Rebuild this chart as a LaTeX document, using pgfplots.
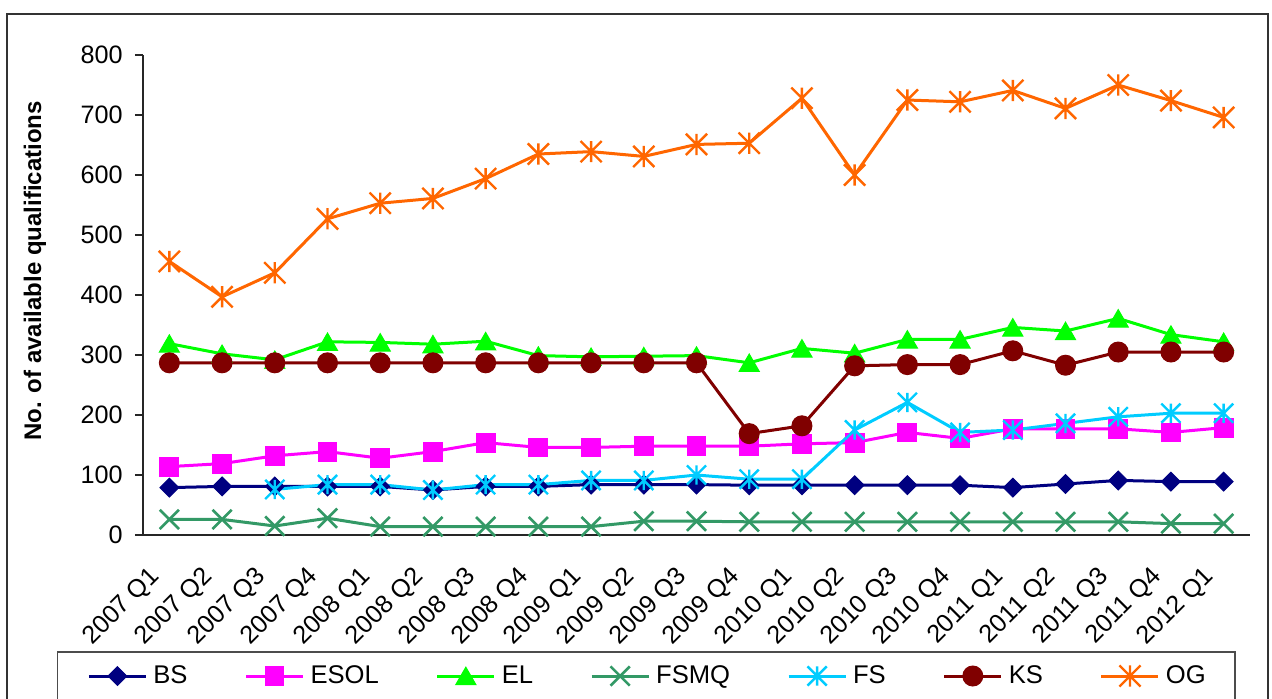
\documentclass[border=0pt]{standalone}
\usepackage{pgfplots}
\pgfplotsset{compat=1.18}
\usepackage{pgfplotstable}
\usepackage{fontspec}
\setmainfont{Liberation Sans}
\usetikzlibrary{plotmarks}

\definecolor{cBS}{RGB}{0,0,128}
\definecolor{cESOL}{RGB}{255,0,255}
\definecolor{cEL}{RGB}{0,255,0}
\definecolor{cFSMQ}{RGB}{51,153,102}
\definecolor{cFS}{RGB}{0,204,255}
\definecolor{cKS}{RGB}{128,0,0}
\definecolor{cOG}{RGB}{255,102,0}

\pgfdeclareplotmark{rdiamond*}{%
  \pgfpathmoveto{\pgfqpoint{0pt}{\pgfplotmarksize}}%
  \pgfpathlineto{\pgfqpoint{\pgfplotmarksize}{0pt}}%
  \pgfpathlineto{\pgfqpoint{0pt}{-\pgfplotmarksize}}%
  \pgfpathlineto{\pgfqpoint{-\pgfplotmarksize}{0pt}}%
  \pgfpathclose
  \pgfusepathqfillstroke}
\pgfdeclareplotmark{xstar}{%
  \pgfpathmoveto{\pgfqpoint{0pt}{\pgfplotmarksize}}%
  \pgfpathlineto{\pgfqpoint{0pt}{-\pgfplotmarksize}}%
  \pgfpathmoveto{\pgfqpoint{\pgfplotmarksize}{\pgfplotmarksize}}%
  \pgfpathlineto{\pgfqpoint{-\pgfplotmarksize}{-\pgfplotmarksize}}%
  \pgfpathmoveto{\pgfqpoint{-\pgfplotmarksize}{\pgfplotmarksize}}%
  \pgfpathlineto{\pgfqpoint{\pgfplotmarksize}{-\pgfplotmarksize}}%
  \pgfusepathqstroke}

\newcommand\qlab[1]{\ifcase#1 2007 Q1\or 2007 Q2\or 2007 Q3\or 2007 Q4\or 2008 Q1\or 2008 Q2\or 2008 Q3\or 2008 Q4\or 2009 Q1\or 2009 Q2\or 2009 Q3\or 2009 Q4\or 2010 Q1\or 2010 Q2\or 2010 Q3\or 2010 Q4\or 2011 Q1\or 2011 Q2\or 2011 Q3\or 2011 Q4\or 2012 Q1\fi}

\pgfplotstableread{
cat BS ESOL EL FSMQ FS KS OG
0 79 114 319 26 nan 287 456
1 81 119 302 26 nan 287 397
2 81 132 292 15 76 287 437
3 81 139 322 28 84 287 527
4 81 128 321 14 84 287 553
5 75 139 318 14 75 287 561
6 81 154 323 14 84 287 594
7 81 146 299 14 84 287 635
8 84 146 297 14 91 287 639
9 84 148 298 23 91 287 631
10 84 148 299 23 100 287 651
11 83 148 287 22 93 169 653
12 83 152 311 22 93 182 728
13 83 154 303 22 175 282 600
14 83 171 326 22 221 284 725
15 83 161 326 22 171 284 722
16 79 177 346 22 175 307 741
17 85 177 340 22 186 283 711
18 91 177 361 22 197 305 750
19 89 171 334 19 203 305 724
20 89 179 322 19 203 305 696
}\datatable

\begin{document}
\begin{tikzpicture}
\useasboundingbox (0,0) rectangle (636pt,349pt);
\begin{axis}[
  at={(71.5pt,81.5pt)}, anchor=south west,
  scale only axis, width=553.5pt, height=240pt,
  xmin=-0.5, xmax=20.5, ymin=0, ymax=800,
  axis lines*=left,
  axis line style={black!85, line width=0.6pt},
  xtick=\empty,
  minor xtick={-0.5,0.5,...,20.5},
  ytick={0,100,...,800},
  tick align=outside,
  major tick length=4pt, minor tick length=4pt,
  tick style={black!85, line width=0.6pt},
  tick label style={font=\fontsize{12.6}{15}\selectfont},
  /pgf/number format/assume math mode=true,
  yticklabel style={inner sep=0pt, xshift=-6pt},
  ylabel={No. of available qualifications},
  every axis y label/.style={at={(axis description cs:-0.0976,0.55)}, rotate=90, anchor=center, font=\bfseries\fontsize{12}{14}\selectfont},
  legend columns=7,
  legend style={at={(axis description cs:-0.0506,-0.29375)}, anchor=west,
    draw=none, fill=none, inner sep=0pt,
    font=\fontsize{12.8}{15}\selectfont,
    nodes={inner sep=0pt},
    /tikz/every odd column/.append style={column sep=3pt},
    /tikz/every even column/.append style={column sep=28.5pt}},
  legend image code/.code={\draw[mark repeat=2,mark phase=2,#1] plot coordinates {(0pt,0pt) (14.25pt,0pt) (28.5pt,0pt)};},
  every axis plot/.append style={line width=1.5pt},
  clip=false,
]
\addplot[color=cBS, mark=rdiamond*, mark size=4.7pt, mark options={solid, line width=0.5pt}] table[x=cat, y=BS] {\datatable};
\addlegendentry{BS}
\addplot[color=cESOL, mark=square*, mark size=4.7pt, mark options={solid, line width=0.5pt}] table[x=cat, y=ESOL] {\datatable};
\addlegendentry{ESOL}
\addplot[color=cEL, mark=triangle*, mark size=5.8pt, mark options={solid, line width=0.5pt, yshift=-1.4pt}] table[x=cat, y=EL] {\datatable};
\addlegendentry{EL}
\addplot[color=cFSMQ, mark=x, mark size=6.8pt, mark options={solid, line width=1.3pt}] table[x=cat, y=FSMQ] {\datatable};
\addlegendentry{FSMQ}
\addplot[color=cFS, mark=xstar, mark size=4.8pt, mark options={solid, line width=1.2pt}] table[x=cat, y=FS] {\datatable};
\addlegendentry{FS}
\addplot[color=cKS, mark=*, mark size=5pt, mark options={solid, line width=0.5pt}] table[x=cat, y=KS] {\datatable};
\addlegendentry{KS}
\addplot[color=cOG, mark=xstar, mark size=5.3pt, mark options={solid, line width=1.2pt}] table[x=cat, y=OG] {\datatable};
\addlegendentry{OG}
\pgfplotsinvokeforeach{0,...,20}{
  \node[rotate=45, anchor=east, inner sep=0pt, font=\fontsize{12.6}{15}\selectfont]
    at ([xshift=-6.5pt,yshift=-18.7pt]axis cs:#1,0) {\qlab{#1}};
}
\end{axis}
\draw[gray!40!black, line width=1pt] (3.5pt,-5pt) -- (3.5pt,342pt) -- (634pt,342pt) -- (634pt,-5pt);
\draw[gray!60!black, line width=0.7pt] (28.85pt,-5pt) -- (28.85pt,23pt) -- (617.5pt,23pt) -- (617.5pt,-5pt);
\end{tikzpicture}
\end{document}
